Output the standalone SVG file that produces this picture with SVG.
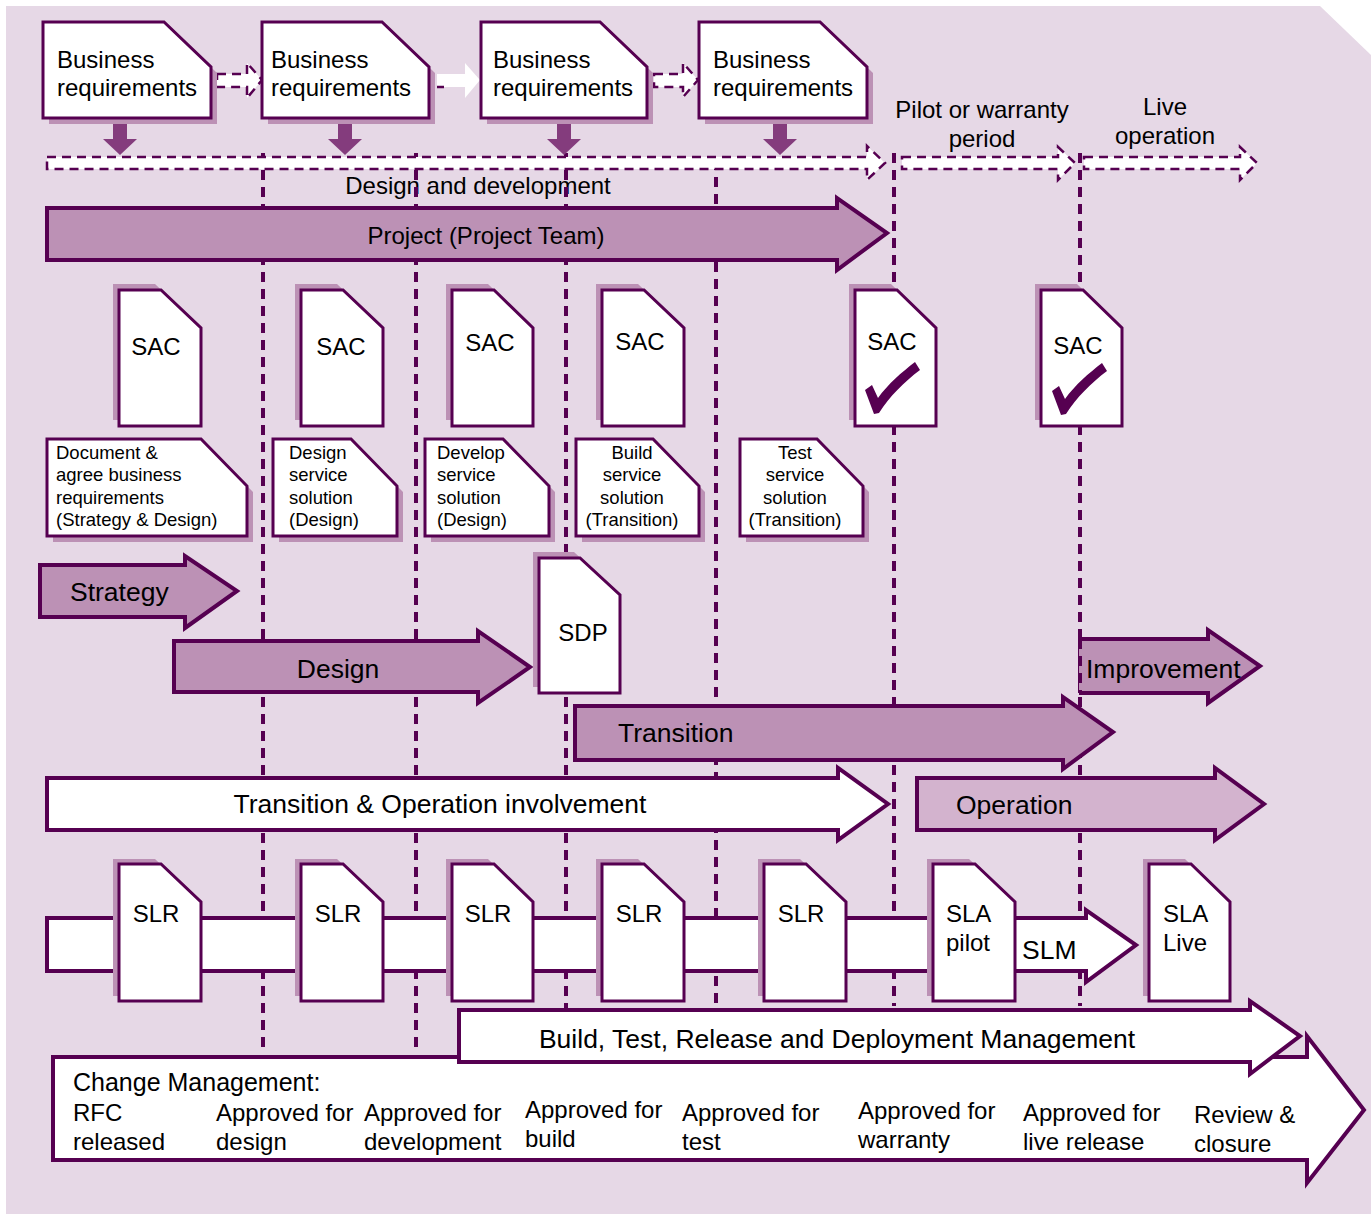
<svg xmlns="http://www.w3.org/2000/svg" width="1371" height="1214" viewBox="0 0 1371 1214">
  <style>
    text { font-family: "Liberation Sans", Arial, sans-serif; fill: #000; }
    .doc { fill: #fff; stroke: #560051; stroke-width: 3; stroke-linejoin: miter; }
    .shadow { fill: #BC91B5; }
    .block { stroke: #560051; stroke-width: 4; stroke-linejoin: miter; }
    .mid { fill: #BC91B5; }
    .light { fill: #D3B3CE; }
    .white { fill: #fff; }
    .flow { fill: #fff; stroke: #560051; stroke-width: 2.5; stroke-dasharray: 9 6; }
    .flow-plain { fill: #fff; }
    .drop { fill: #843C7D; }
    .divider { stroke: #560051; stroke-width: 4; stroke-dasharray: 10 7; fill: none; }
    .t24 { font-size: 24px; }
    .t26 { font-size: 26.5px; }
    .t18 { font-size: 18.5px; }
    .mid-anchor { text-anchor: middle; }
    .check { fill: #560051; }
  </style>
  <defs>
    <path id="tick" d="M865 390 L872 385 L878 398 C888 384 902 372 915 362 L920 370 C904 382 890 396 879 413 L874 414 Z"/>
  </defs>

  <!-- backdrop with clipped top-right corner -->
  <polygon points="6,6 1320,6 1371,55 1371,1214 6,1214" fill="#E6D8E6"/>

  <!-- phase headings -->
  <g id="phase-labels" class="t24">
    <text x="478" y="194" class="mid-anchor">Design and development</text>
    <text x="982" y="118" class="mid-anchor">Pilot or warranty</text>
    <text x="982" y="147" class="mid-anchor">period</text>
    <text x="1165" y="115" class="mid-anchor">Live</text>
    <text x="1165" y="144" class="mid-anchor">operation</text>
  </g>

  <g id="connectors">
    <!-- stage dividers -->
    <line class="divider" x1="263" y1="153" x2="263" y2="1052"/>
    <line class="divider" x1="416" y1="153" x2="416" y2="1052"/>
    <line class="divider" x1="566" y1="153" x2="566" y2="1008"/>
    <line class="divider" x1="716" y1="160" x2="716" y2="1006"/>
    <line class="divider" x1="894" y1="153" x2="894" y2="1006"/>
    <line class="divider" x1="1080" y1="153" x2="1080" y2="1006"/>
    <!-- timeline -->
    <path class="flow" d="M47 157 H867 V146 L885 163 L867 180 V169 H47 Z"/>
    <path class="flow" d="M902 157 H1058 V147 L1075 163 L1058 180 V169 H902 Z"/>
    <path class="flow" d="M1084 157 H1240 V147 L1257 163 L1240 180 V169 H1084 Z"/>
    <!-- requirement hand-offs -->
    <path class="flow" d="M217 74 H247 V63 L262 80 L247 98 V87 H217 Z"/>
    <path class="flow-plain" d="M437 74 H465 V63 L480 80 L465 98 V87 H437 Z"/>
    <line x1="437" y1="87" x2="444" y2="87" stroke="#560051" stroke-width="2.5"/>
    <path class="flow" d="M654 74 H683 V63 L698 80 L683 97 V87 H654 Z"/>
    <!-- requirements feeding the timeline -->
    <path class="drop" d="M113 124 H127 V139 H137 L120 155 L103 139 H113 Z"/>
    <path class="drop" d="M338 124 H352 V139 H362 L345 155 L328 139 H338 Z"/>
    <path class="drop" d="M557 124 H571 V139 H581 L564 155 L547 139 H557 Z"/>
    <path class="drop" d="M773 124 H787 V139 H797 L780 155 L763 139 H773 Z"/>
  </g>

  <!-- business requirements -->
  <g id="br1">
    <path class="shadow" transform="translate(6,6)" d="M43 22 H164 L211 67 V118 H43 Z"/>
    <path class="doc" d="M43 22 H164 L211 67 V118 H43 Z"/>
    <text class="t24" x="57" y="68">Business</text>
    <text class="t24" x="57" y="96">requirements</text>
  </g>
  <g id="br2">
    <path class="shadow" transform="translate(6,6)" d="M262 22 H382 L429 67 V118 H262 Z"/>
    <path class="doc" d="M262 22 H382 L429 67 V118 H262 Z"/>
    <text class="t24" x="271" y="68">Business</text>
    <text class="t24" x="271" y="96">requirements</text>
  </g>
  <g id="br3">
    <path class="shadow" transform="translate(6,6)" d="M481 22 H600 L647 67 V118 H481 Z"/>
    <path class="doc" d="M481 22 H600 L647 67 V118 H481 Z"/>
    <text class="t24" x="493" y="68">Business</text>
    <text class="t24" x="493" y="96">requirements</text>
  </g>
  <g id="br4">
    <path class="shadow" transform="translate(6,6)" d="M699 22 H820 L867 67 V118 H699 Z"/>
    <path class="doc" d="M699 22 H820 L867 67 V118 H699 Z"/>
    <text class="t24" x="713" y="68">Business</text>
    <text class="t24" x="713" y="96">requirements</text>
  </g>

  <!-- project -->
  <g id="project">
    <path class="block mid" d="M47 208 H837 V198 L887 233 L837 270 V260 H47 Z"/>
    <text class="t24 mid-anchor" x="486" y="244">Project (Project Team)</text>
  </g>

  <!-- service acceptance criteria -->
  <g id="sac1">
    <path class="shadow" transform="translate(-6,-6)" d="M119 290 H161 L201 328 V426 H119 Z"/>
    <path class="doc" d="M119 290 H161 L201 328 V426 H119 Z"/>
    <text class="t24 mid-anchor" x="156" y="355">SAC</text>
  </g>
  <g id="sac2">
    <path class="shadow" transform="translate(-6,-6)" d="M301 290 H343 L383 328 V426 H301 Z"/>
    <path class="doc" d="M301 290 H343 L383 328 V426 H301 Z"/>
    <text class="t24 mid-anchor" x="341" y="355">SAC</text>
  </g>
  <g id="sac3">
    <path class="shadow" transform="translate(-6,-6)" d="M452 290 H494 L533 328 V426 H452 Z"/>
    <path class="doc" d="M452 290 H494 L533 328 V426 H452 Z"/>
    <text class="t24 mid-anchor" x="490" y="351">SAC</text>
  </g>
  <g id="sac4">
    <path class="shadow" transform="translate(-6,-6)" d="M602 290 H644 L684 328 V426 H602 Z"/>
    <path class="doc" d="M602 290 H644 L684 328 V426 H602 Z"/>
    <text class="t24 mid-anchor" x="640" y="350">SAC</text>
  </g>
  <g id="sac5">
    <path class="shadow" transform="translate(-6,-6)" d="M855 290 H897 L936 328 V426 H855 Z"/>
    <path class="doc" d="M855 290 H897 L936 328 V426 H855 Z"/>
    <text class="t24 mid-anchor" x="892" y="350">SAC</text>
    <use href="#tick" class="check"/>
  </g>
  <g id="sac6">
    <path class="shadow" transform="translate(-6,-6)" d="M1041 290 H1083 L1122 328 V426 H1041 Z"/>
    <path class="doc" d="M1041 290 H1083 L1122 328 V426 H1041 Z"/>
    <text class="t24 mid-anchor" x="1078" y="354">SAC</text>
    <use href="#tick" class="check" transform="translate(187,1)"/>
  </g>

  <!-- activity notes -->
  <g id="note-strategy" class="t18">
    <path class="shadow" transform="translate(6,6)" d="M47 439 H201 L247 486 V536 H47 Z"/>
    <path class="doc" d="M47 439 H201 L247 486 V536 H47 Z"/>
    <text x="56" y="459">Document &amp;</text>
    <text x="56" y="481">agree business</text>
    <text x="56" y="504">requirements</text>
    <text x="56" y="526">(Strategy &amp; Design)</text>
  </g>
  <g id="note-design" class="t18">
    <path class="shadow" transform="translate(6,6)" d="M273 439 H351 L397 486 V536 H273 Z"/>
    <path class="doc" d="M273 439 H351 L397 486 V536 H273 Z"/>
    <text x="289" y="459">Design</text>
    <text x="289" y="481">service</text>
    <text x="289" y="504">solution</text>
    <text x="289" y="526">(Design)</text>
  </g>
  <g id="note-develop" class="t18">
    <path class="shadow" transform="translate(6,6)" d="M425 439 H503 L549 486 V536 H425 Z"/>
    <path class="doc" d="M425 439 H503 L549 486 V536 H425 Z"/>
    <text x="437" y="459">Develop</text>
    <text x="437" y="481">service</text>
    <text x="437" y="504">solution</text>
    <text x="437" y="526">(Design)</text>
  </g>
  <g id="note-build" class="t18 mid-anchor">
    <path class="shadow" transform="translate(6,6)" d="M576 439 H653 L699 486 V536 H576 Z"/>
    <path class="doc" d="M576 439 H653 L699 486 V536 H576 Z"/>
    <text x="632" y="459">Build</text>
    <text x="632" y="481">service</text>
    <text x="632" y="504">solution</text>
    <text x="632" y="526">(Transition)</text>
  </g>
  <g id="note-test" class="t18 mid-anchor">
    <path class="shadow" transform="translate(6,6)" d="M740 439 H817 L863 486 V536 H740 Z"/>
    <path class="doc" d="M740 439 H817 L863 486 V536 H740 Z"/>
    <text x="795" y="459">Test</text>
    <text x="795" y="481">service</text>
    <text x="795" y="504">solution</text>
    <text x="795" y="526">(Transition)</text>
  </g>

  <!-- lifecycle stages -->
  <g id="strategy">
    <path class="block mid" d="M40 565 H185 V556 L237 591 L185 628 V617 H40 Z"/>
    <text class="t26" x="70" y="601">Strategy</text>
  </g>
  <g id="design">
    <path class="block mid" d="M174 641 H478 V631 L530 667 L478 703 V692 H174 Z"/>
    <text class="t26 mid-anchor" x="338" y="678">Design</text>
  </g>
  <g id="sdp">
    <path class="shadow" transform="translate(-6,-6)" d="M539 558 H580 L620 595 V693 H539 Z"/>
    <path class="doc" d="M539 558 H580 L620 595 V693 H539 Z"/>
    <text class="t24 mid-anchor" x="583" y="641">SDP</text>
  </g>
  <g id="improvement">
    <path class="mid" d="M1079 639 H1208 V630 L1260 666 L1208 703 V693 H1079 Z"/>
    <path class="block" fill="none" d="M1079 639 H1208 V630 L1260 666 L1208 703 V693 H1079"/>
    <line class="divider" x1="1080" y1="639" x2="1080" y2="693"/>
    <text class="t26" x="1086" y="678">Improvement</text>
  </g>
  <g id="transition">
    <path class="block mid" d="M575 706 H1063 V697 L1113 732 L1063 769 V760 H575 Z"/>
    <text class="t26" x="618" y="742">Transition</text>
  </g>
  <g id="involvement">
    <path class="block white" d="M47 778 H838 V768 L888 804 L838 840 V830 H47 Z"/>
    <text class="t26 mid-anchor" x="440" y="813">Transition &amp; Operation involvement</text>
  </g>
  <g id="operation">
    <path class="block light" d="M917 778 H1215 V768 L1264 804 L1215 840 V830 H917 Z"/>
    <text class="t26" x="956" y="814">Operation</text>
  </g>

  <!-- service level management -->
  <g id="slm">
    <path class="block white" d="M47 918 H1086 V910 L1136 945 L1086 982 V971 H47 Z"/>
    <text class="t26" x="1022" y="959">SLM</text>
  </g>
  <g id="slr1">
    <path class="shadow" transform="translate(-6,-5)" d="M119 864 H161 L201 902 V1001 H119 Z"/>
    <path class="doc" d="M119 864 H161 L201 902 V1001 H119 Z"/>
    <text class="t24 mid-anchor" x="156" y="922">SLR</text>
  </g>
  <g id="slr2">
    <path class="shadow" transform="translate(-6,-5)" d="M301 864 H343 L383 902 V1001 H301 Z"/>
    <path class="doc" d="M301 864 H343 L383 902 V1001 H301 Z"/>
    <text class="t24 mid-anchor" x="338" y="922">SLR</text>
  </g>
  <g id="slr3">
    <path class="shadow" transform="translate(-6,-5)" d="M452 864 H494 L533 902 V1001 H452 Z"/>
    <path class="doc" d="M452 864 H494 L533 902 V1001 H452 Z"/>
    <text class="t24 mid-anchor" x="488" y="922">SLR</text>
  </g>
  <g id="slr4">
    <path class="shadow" transform="translate(-6,-5)" d="M602 864 H644 L684 902 V1001 H602 Z"/>
    <path class="doc" d="M602 864 H644 L684 902 V1001 H602 Z"/>
    <text class="t24 mid-anchor" x="639" y="922">SLR</text>
  </g>
  <g id="slr5">
    <path class="shadow" transform="translate(-6,-5)" d="M764 864 H806 L846 902 V1001 H764 Z"/>
    <path class="doc" d="M764 864 H806 L846 902 V1001 H764 Z"/>
    <text class="t24 mid-anchor" x="801" y="922">SLR</text>
  </g>
  <g id="sla-pilot">
    <path class="shadow" transform="translate(-6,-5)" d="M933 864 H975 L1015 902 V1001 H933 Z"/>
    <path class="doc" d="M933 864 H975 L1015 902 V1001 H933 Z"/>
    <text class="t24" x="946" y="922">SLA</text>
    <text class="t24" x="946" y="951">pilot</text>
  </g>
  <g id="sla-live">
    <path class="shadow" transform="translate(-6,-5)" d="M1149 864 H1191 L1230 902 V1001 H1149 Z"/>
    <path class="doc" d="M1149 864 H1191 L1230 902 V1001 H1149 Z"/>
    <text class="t24" x="1163" y="922">SLA</text>
    <text class="t24" x="1163" y="951">Live</text>
  </g>

  <!-- change management -->
  <g id="change-management" class="t24">
    <path class="block white" d="M53 1057 H1307 V1036 L1364 1110 L1307 1183 V1160 H53 Z"/>
    <text x="73" y="1091" font-size="25">Change Management:</text>
    <text x="73" y="1121">RFC</text>
    <text x="73" y="1150">released</text>
    <text x="216" y="1121">Approved for</text>
    <text x="216" y="1150">design</text>
    <text x="364" y="1121">Approved for</text>
    <text x="364" y="1150">development</text>
    <text x="525" y="1118">Approved for</text>
    <text x="525" y="1147">build</text>
    <text x="682" y="1121">Approved for</text>
    <text x="682" y="1150">test</text>
    <text x="858" y="1119">Approved for</text>
    <text x="858" y="1148">warranty</text>
    <text x="1023" y="1121">Approved for</text>
    <text x="1023" y="1150">live release</text>
    <text x="1194" y="1123">Review &amp;</text>
    <text x="1194" y="1152">closure</text>
  </g>

  <!-- release and deployment -->
  <g id="release-deployment">
    <path class="block white" d="M459 1010 H1250 V1001 L1300 1036 L1250 1074 V1062 H459 Z"/>
    <text class="t26 mid-anchor" x="837" y="1048">Build, Test, Release and Deployment Management</text>
  </g>
</svg>
